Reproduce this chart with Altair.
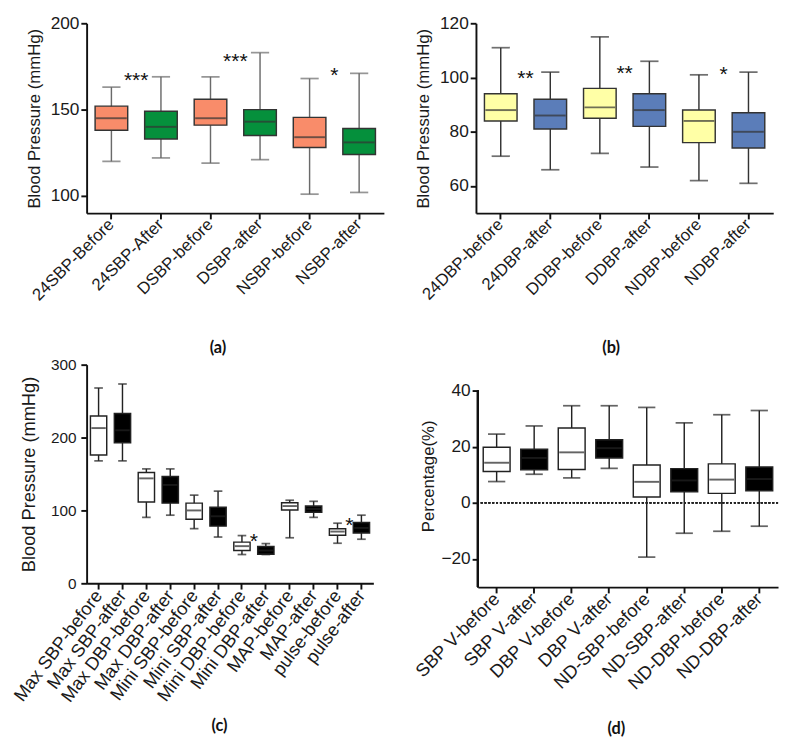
import altair as alt
import pandas as pd

# ---------------- Panel (a) ----------------
a_cats = ["24SBP-Before", "24SBP-After", "DSBP-before", "DSBP-after", "NSBP-before", "NSBP-after"]
a_lo = [120, 122, 119, 121, 101, 102]
a_q1 = [138, 133, 141, 135, 128, 124]
a_med = [145, 140, 145, 143, 134, 131]
a_q3 = [152, 149, 156, 150, 145.5, 139]
a_hi = [163, 169, 169, 183, 168, 171]
a_grp = ["before", "after", "before", "after", "before", "after"]
a_star_txt = ["***", "***", "*"]
a_star_at = ["24SBP-After", "DSBP-after", "NSBP-after"]
a_star_y = [170, 180.5, 172.5]

# ---------------- Panel (b) ----------------
b_cats = ["24DBP-before", "24DBP-after", "DDBP-before", "DDBP-after", "NDBP-before", "NDBP-after"]
b_lo = [71, 66, 72, 67, 62, 61]
b_q1 = [84, 81, 85, 82, 76, 74]
b_med = [88, 86, 89, 88, 84, 80]
b_q3 = [94, 92, 96, 94, 88, 87]
b_hi = [111, 102, 115, 106, 101, 102]
b_grp = ["before", "after", "before", "after", "before", "after"]
b_star_txt = ["**", "**", "*"]
b_star_at = ["24DBP-after", "DDBP-after", "NDBP-after"]
b_star_y = [101.5, 103.5, 103]

# ---------------- Panel (c) ----------------
c_cats = ["Max SBP-before", "Max SBP-after", "Max DBP-before", "Max DBP-after",
          "Mini SBP-before", "Mini SBP-after", "Mini DBP-before", "Mini DBP-after",
          "MAP-before", "MAP-after", "pulse-before", "pulse-after"]
c_lo = [168, 168, 90.5, 93.5, 75, 63.5, 39.5, 39.5, 62.5, 90.5, 55, 60.5]
c_q1 = [176, 193, 111.5, 110, 88, 78.5, 45, 40, 100.5, 97.5, 66, 69]
c_med = [213, 210, 144, 135, 100, 92, 51, 45, 106, 102, 71, 76]
c_q3 = [229.5, 233, 152, 146.5, 110, 104.5, 56.5, 50.5, 110.5, 106, 75, 83.5]
c_hi = [268, 273.5, 157, 157, 121, 126.5, 65.5, 54.5, 114, 112.5, 82.5, 93.5]
c_grp = ["before", "after"] * 6
c_star_txt = ["*", "*"]
c_star_at = ["Mini DBP-after", "pulse-after"]
c_star_y = [64, 86]

# ---------------- Panel (d) ----------------
d_cats = ["SBP V-before", "SBP V-after", "DBP V-before", "DBP V-after",
          "ND-SBP-before", "ND-SBP-after", "ND-DBP-before", "ND-DBP-after"]
d_lo = [7.6, 10.2, 8.9, 12.3, -19.3, -10.8, -10.1, -8.3]
d_q1 = [11.2, 11.8, 11.9, 16.0, 2.1, 4.0, 3.4, 4.3]
d_med = [14.3, 16.0, 18.0, 19.5, 7.5, 8.0, 8.3, 8.5]
d_q3 = [19.8, 19.1, 26.7, 22.5, 13.5, 12.2, 13.9, 12.8]
d_hi = [24.5, 27.4, 34.6, 34.6, 34.0, 28.5, 31.4, 32.9]
d_grp = ["before", "after"] * 4

FONT = "Liberation Sans"


def panel(cats, lo, q1, med, q3, hi, grp, fill_range, ydom, yvals, ytitle,
          width, height, boxw, capw, whisk_color, stroke_color,
          star_txt=None, star_at=None, star_y=None, title="", title_dx=0,
          title_offset=22, ytitle_size=17.5, label_size=18, xlabel_size=17.5,
          xlabel_angle=-45, title_pad=7, label_pad=2, ext_top=0.0, zero_line=False):
    df = pd.DataFrame({"cat": cats, "lo": lo, "q1": q1, "med": med,
                       "q3": q3, "hi": hi, "grp": grp})
    step = width / len(cats)
    ymin, ymax = ydom
    real_h = height - ext_top
    top = ymax + (ymax - ymin) * ext_top / real_h if ext_top else ymax
    xenc = alt.X("cat:N", sort=cats,
                 scale=alt.Scale(paddingInner=0, paddingOuter=0),
                 axis=alt.Axis(title=None, labelAngle=xlabel_angle, labelAlign="right",
                               labelBaseline="middle", labelFontSize=xlabel_size,
                               labelPadding=3, labelOverlap=False))
    yscale = alt.Scale(domain=[ymin, top], nice=False, zero=False)
    yaxis = alt.Axis(title=ytitle, values=yvals, titleFontSize=ytitle_size,
                     labelFontSize=label_size, titlePadding=title_pad,
                     labelPadding=label_pad, domain=(ext_top == 0))
    base = alt.Chart(df)
    whisk = base.mark_rule(color=whisk_color, strokeWidth=1.5).encode(
        x=xenc, y=alt.Y("lo:Q", scale=yscale, axis=yaxis), y2="hi:Q")
    box = base.mark_bar(size=boxw, stroke=stroke_color, strokeWidth=1.5).encode(
        x=xenc, y=alt.Y("q1:Q"), y2="q3:Q",
        fill=alt.Fill("grp:N", scale=alt.Scale(domain=["before", "after"], range=fill_range),
                      legend=None))
    medt = base.mark_tick(size=boxw - 2, thickness=2, color=stroke_color).encode(
        x=xenc, y="med:Q")
    caplo = base.mark_tick(size=capw, thickness=1.8, color=whisk_color).encode(
        x=xenc, y="lo:Q")
    caphi = base.mark_tick(size=capw, thickness=1.8, color=whisk_color).encode(
        x=xenc, y="hi:Q")
    layers = []
    if zero_line:
        layers.append(alt.Chart(df).mark_rule(color="#222", strokeDash=[2, 2], strokeWidth=1)
                      .encode(y=alt.datum(0)))
    layers += [whisk, box, medt, caplo, caphi]
    if ext_top:
        layers.append(alt.Chart(df).mark_rule(color="#111", strokeWidth=2).encode(
            x=alt.value(0), y=alt.datum(ymin), y2=alt.datum(ymax)))
    if star_txt:
        sdf = pd.DataFrame({"cat": star_at, "y": star_y, "t": star_txt})
        layers.append(alt.Chart(sdf).mark_text(fontSize=22, font=FONT, color="#111",
                                               dx=-step / 2, dy=5, baseline="middle")
                      .encode(x=xenc, y="y:Q", text="t:N"))
    return alt.layer(*layers).properties(
        width=width, height=height,
        title=alt.TitleParams(title, orient="bottom", font="Lato", fontSize=17,
                              fontWeight="bold", color="#111", offset=title_offset,
                              dx=title_dx, anchor="middle"))


pa = panel(a_cats, a_lo, a_q1, a_med, a_q3, a_hi, a_grp, ["#F98C6A", "#05903C"],
           (90, 200), [100, 150, 200], "Blood Pressure (mmHg)", 310, 198, 34, 19,
           "#6a6a6a", "#333333", a_star_txt, a_star_at, a_star_y, "(a)", -18,
           title_offset=39)
pb = panel(b_cats, b_lo, b_q1, b_med, b_q3, b_hi, b_grp, ["#FFFFA6", "#5B7DB9"],
           (50, 120), [60, 80, 100, 120], "Blood Pressure (mmHg)", 310, 198, 34, 19,
           "#333333", "#333333", b_star_txt, b_star_at, b_star_y, "(b)", -14,
           title_offset=39)
pc = panel(c_cats, c_lo, c_q1, c_med, c_q3, c_hi, c_grp, ["#FFFFFF", "#000000"],
           (0, 300), [0, 100, 200, 300], "Blood Pressure (mmHg)", 299, 228, 17, 9,
           "#222222", "#222222", c_star_txt, c_star_at, c_star_y, "(c)", -11,
           title_offset=14, ytitle_size=19, label_size=16, xlabel_size=19,
           xlabel_angle=-53, title_pad=13, label_pad=5)
pd_ = panel(d_cats, d_lo, d_q1, d_med, d_q3, d_hi, d_grp, ["#FFFFFF", "#000000"],
            (-30, 40), [-20, 0, 20, 40], "Percentage(%)", 313, 232, 28, 18,
            "#222222", "#222222", title="(d)", title_dx=-12, title_offset=30,
            ext_top=27, zero_line=True, title_pad=4, label_pad=2, xlabel_size=19)

row1 = alt.hconcat(pa, pb, spacing=32).resolve_scale(fill="independent")
row2 = alt.hconcat(pc, pd_, spacing=40).resolve_scale(fill="independent")

chart = alt.vconcat(row1, row2, spacing=0).resolve_scale(fill="independent").properties(
    padding={"left": 2, "top": -9, "right": 0, "bottom": 0}
).configure_view(stroke=None).configure_axis(
    labelFont=FONT, titleFont=FONT, titleFontWeight="normal", labelColor="#1a1a1a",
    titleColor="#1a1a1a", domainColor="#111", domainWidth=2, tickColor="#111",
    tickWidth=2, tickSize=6, grid=False
)

chart.save("out.html", embed_options={"renderer": "svg", "actions": False})
